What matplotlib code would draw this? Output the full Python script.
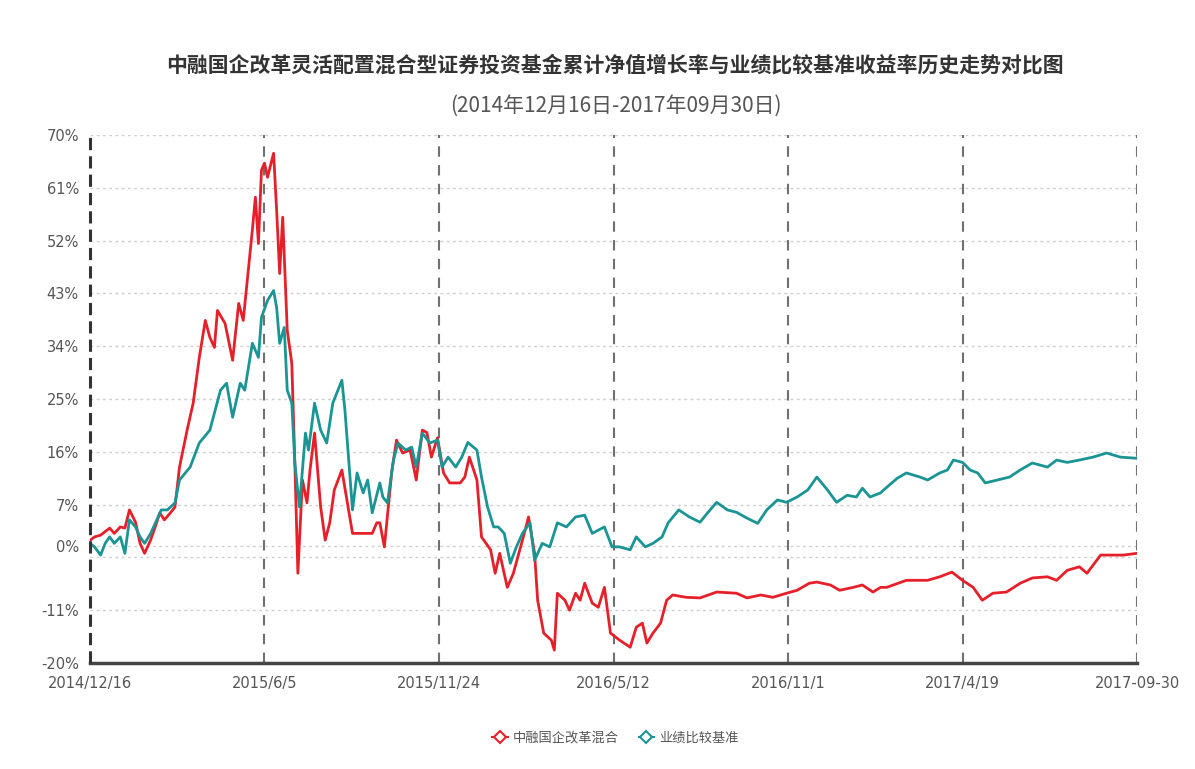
import matplotlib
matplotlib.use("Agg")
import matplotlib.pyplot as plt
from matplotlib.lines import Line2D

plt.rcParams['font.family'] = ['Noto Sans CJK SC', 'DejaVu Sans']

title_main = "中融国企改革灵活配置混合型证券投资基金累计净值增长率与业绩比较基准收益率历史走势对比图"
title_sub = "(2014年12月16日-2017年09月30日)"
series_names = ["中融国企改革混合", "业绩比较基准"]
xtick_labels = ["2014/12/16", "2015/6/5", "2015/11/24", "2016/5/12", "2016/11/1", "2017/4/19", "2017-09-30"]
xtick_pos = [0, 115, 230, 345, 460, 575, 690]
ytick_vals = [-20, -11, 0, 7, 16, 25, 34, 43, 52, 61, 70]
ygrid_vals = [-11, -2, 0, 7, 16, 25, 34, 43, 52, 61, 70]

# trading-day index, cumulative NAV growth (%)
fund_x = [0, 3, 7, 13, 16, 20, 23, 26, 30, 33, 36, 40, 43, 46, 49, 53, 56, 59, 64, 68,
          72, 76, 79, 82, 84, 89, 94, 98, 101, 103, 107, 109, 111, 113, 115, 117, 121, 123, 125, 127,
          130, 133, 135, 137, 140, 143, 145, 148, 152, 155, 158, 161, 166, 169, 173, 178, 186, 189, 191, 194,
          199, 202, 206, 211, 215, 219, 222, 225, 229, 233, 237, 244, 247, 250, 255, 258, 264, 267, 270, 275,
          279, 285, 289, 293, 295, 299, 304, 306, 308, 313, 316, 320, 323, 326, 331, 335, 339, 343, 349, 356,
          360, 364, 367, 371, 376, 380, 384, 393, 402, 413, 426, 433, 442, 450, 459, 466, 474, 479, 488, 494,
          503, 509, 516, 521, 525, 538, 552, 560, 568, 575, 582, 588, 595, 604, 613, 621, 631, 637, 644, 652,
          657, 666, 674, 681, 690]
fund_y = [0.9, 1.5, 1.8, 3.0, 2.1, 3.2, 3.0, 6.1, 4.0, 0.4, -1.3, 1.0, 3.2, 5.6, 4.4, 5.6, 6.6, 13.4, 19.7, 24.3,
          32.0, 38.4, 35.5, 33.8, 40.1, 37.9, 31.6, 41.3, 38.4, 43.5, 53.8, 59.4, 51.5, 64.0, 65.2, 62.8, 66.9, 57.2, 46.4, 56.0,
          36.7, 31.1, 14.1, -4.7, 11.2, 7.3, 12.9, 19.2, 6.6, 0.95, 3.9, 9.5, 12.9, 8.3, 2.1, 2.1, 2.1, 3.9, 3.9, -0.2,
          12.9, 18.0, 15.8, 16.3, 11.2, 19.7, 19.3, 15.1, 18.4, 12.4, 10.7, 10.7, 11.7, 15.1, 11.2, 1.5, -0.7, -4.7, -1.3, -7.1,
          -4.7, 0.95, 4.9, -1.3, -9.3, -14.9, -16.1, -17.8, -8.1, -9.3, -11.0, -8.1, -9.3, -6.4, -9.8, -10.5, -7.1, -14.9, -16.1, -17.3,
          -13.9, -13.2, -16.6, -14.9, -13.2, -9.3, -8.4, -8.8, -8.9, -7.9, -8.1, -8.9, -8.4, -8.8, -8.1, -7.6, -6.4, -6.2, -6.7, -7.6,
          -7.1, -6.7, -7.9, -7.1, -7.1, -5.9, -5.9, -5.3, -4.5, -5.9, -7.1, -9.3, -8.1, -7.9, -6.4, -5.5, -5.3, -5.9, -4.2, -3.6,
          -4.7, -1.6, -1.6, -1.6, -1.3]

bench_x = [0, 3, 7, 10, 13, 16, 20, 23, 26, 30, 33, 36, 40, 43, 47, 51, 56, 59, 66, 72,
           79, 86, 90, 94, 99, 102, 107, 111, 113, 117, 121, 123, 125, 128, 130, 133, 135, 138, 142, 144,
           148, 152, 156, 160, 166, 168, 173, 176, 180, 183, 186, 191, 193, 196, 200, 203, 208, 212, 215, 219,
           224, 229, 232, 236, 241, 245, 249, 255, 258, 262, 266, 269, 273, 277, 281, 285, 290, 293, 298, 303,
           308, 314, 320, 326, 331, 339, 344, 349, 356, 360, 366, 371, 377, 381, 388, 395, 402, 407, 413, 420,
           426, 433, 440, 446, 453, 459, 466, 473, 479, 486, 492, 499, 505, 509, 514, 521, 523, 532, 538, 547,
           552, 560, 565, 569, 575, 580, 585, 590, 598, 606, 613, 621, 631, 637, 644, 652, 661, 670, 679, 690]
bench_y = [0.4, -0.2, -1.6, 0.4, 1.5, 0.4, 1.5, -1.3, 4.4, 3.2, 1.5, 0.4, 2.1, 3.8, 6.1, 6.1, 7.3, 11.2, 13.4, 17.5,
           19.7, 26.5, 27.7, 21.9, 27.7, 26.5, 34.5, 32.1, 38.9, 41.8, 43.5, 40.6, 34.5, 37.2, 26.5, 24.3, 14.1, 6.6, 19.2, 16.3,
           24.3, 19.7, 17.5, 24.3, 28.2, 23.1, 6.1, 12.4, 9.0, 11.2, 5.6, 10.7, 8.3, 7.3, 14.6, 17.5, 16.3, 16.8, 13.4, 19.2,
           17.5, 18.0, 13.4, 15.1, 13.4, 15.1, 17.6, 16.3, 11.7, 6.6, 3.2, 3.2, 2.1, -3.0, -0.2, 2.1, 3.9, -2.5, 0.4, -0.2,
           3.9, 3.2, 4.9, 5.2, 2.1, 3.2, -0.2, -0.2, -0.7, 1.5, -0.2, 0.4, 1.5, 3.9, 6.1, 4.9, 4.0, 5.6, 7.4, 6.1,
           5.7, 4.7, 3.8, 6.1, 7.8, 7.4, 8.3, 9.5, 11.7, 9.5, 7.4, 8.6, 8.3, 9.8, 8.3, 9.0, 9.5, 11.5, 12.4, 11.7,
           11.2, 12.4, 12.9, 14.6, 14.2, 12.9, 12.4, 10.7, 11.2, 11.7, 12.9, 14.1, 13.4, 14.6, 14.2, 14.6, 15.1, 15.8, 15.1, 14.9]

RED = "#e5202a"
TEAL = "#1b9494"

fig = plt.figure(figsize=(11.95, 7.69), dpi=100)
ax = fig.add_axes([0.0753, 0.1378, 0.8762, 0.6866])

ax.set_xlim(0, 690)
ax.set_ylim(-20, 70)

for v in ygrid_vals:
    ax.axhline(v, color="#cfcfcf", lw=1.0, ls=(0, (2, 2.5)), zorder=1)
for p in xtick_pos[1:]:
    ax.axvline(p, color="#707070", lw=1.5, ls=(0, (5, 4)), zorder=1)

ax.plot(fund_x, fund_y, color=RED, lw=2.0, zorder=3)
ax.plot(bench_x, bench_y, color=TEAL, lw=2.0, zorder=4)

for s in ["top", "right"]:
    ax.spines[s].set_visible(False)
ax.spines["left"].set_visible(False)
ax.axvline(0, color="#333333", lw=2.2, ls=(0, (4, 2)), zorder=5, clip_on=False)
ax.spines["bottom"].set_color("#444444")
ax.spines["bottom"].set_linewidth(2.5)

ax.set_yticks(ytick_vals)
ax.set_yticklabels([f"{v}%" for v in ytick_vals])
ax.set_xticks(xtick_pos)
ax.set_xticklabels(xtick_labels)
ax.tick_params(axis="both", length=0, labelsize=10.5, colors="#555555")
ax.tick_params(axis="y", pad=8)
ax.tick_params(axis="x", pad=9)
for lab in ax.get_xticklabels():
    lab.set_family(["Liberation Sans Narrow", "DejaVu Sans"])
for lab in ax.get_yticklabels():
    lab.set_family(["Liberation Sans Narrow", "DejaVu Sans"])

fig.text(0.515, 0.915, title_main, ha="center", va="center", fontsize=15,
         fontweight="bold", color="#333333")
fig.text(0.515, 0.862, title_sub, ha="center", va="center", fontsize=15,
         color="#555555", family=["Liberation Sans Narrow", "Noto Sans CJK SC"])

handles = [Line2D([0], [0], color=RED, lw=1.5, marker="D", markersize=6,
                  markerfacecolor="white", markeredgecolor=RED, markeredgewidth=1.5),
           Line2D([0], [0], color=TEAL, lw=1.5, marker="D", markersize=6,
                  markerfacecolor="white", markeredgecolor=TEAL, markeredgewidth=1.5)]
fig.legend(handles, series_names, loc="center", bbox_to_anchor=(0.515, 0.04), ncol=2,
           frameon=False, fontsize=9.5, handlelength=1.2, columnspacing=1.5,
           handletextpad=0.4, labelcolor="#555555")

fig.savefig("out.png", dpi=100, facecolor="white")
